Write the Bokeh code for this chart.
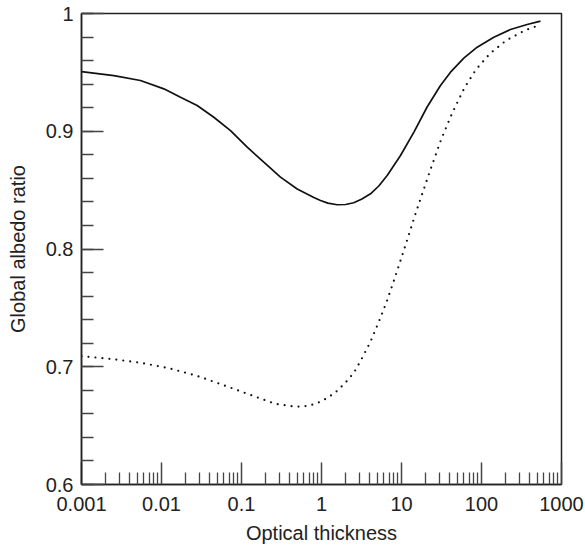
from bokeh.plotting import figure
from bokeh.models import FixedTicker, Range1d
from bokeh.embed import file_html
from bokeh.resources import INLINE

# data
solid_x = [0.001, 0.00254, 0.00546, 0.0107, 0.01728, 0.0279, 0.0451, 0.0729, 0.1178, 0.190, 0.307,
           0.497, 0.802, 0.972, 1.2, 1.57, 2.0, 2.53, 3.2, 4.10, 5.2, 6.62, 9.72, 14.3, 20.9, 30.7,
           41.0, 60.1, 88.3, 142.6, 230, 372, 546]
solid_y = [0.9507, 0.9473, 0.9431, 0.9360, 0.9289, 0.9219, 0.9119, 0.9006, 0.8865, 0.8737, 0.8610,
           0.8510, 0.8437, 0.8412, 0.8390, 0.8376, 0.8378, 0.8393, 0.8425, 0.8469, 0.8535, 0.8624,
           0.8794, 0.8993, 0.9206, 0.9389, 0.9502, 0.9621, 0.9714, 0.9799, 0.9864, 0.9907, 0.9935]

dotted_x = [0.001, 0.00251, 0.00557, 0.01224, 0.0268, 0.0568, 0.1224, 0.264, 0.473, 0.702, 1.009,
            1.454, 1.955, 2.54, 3.10, 4.10, 5.21, 6.49, 7.94, 9.63, 11.66, 14.96, 22.2, 31.3, 43.0,
            61.3, 84.9, 127, 203, 348, 546]
dotted_y = [0.7090, 0.7064, 0.7033, 0.6988, 0.6926, 0.6849, 0.6767, 0.6685, 0.6660, 0.6668, 0.6707,
            0.6775, 0.6858, 0.6949, 0.7053, 0.7214, 0.7382, 0.7548, 0.7721, 0.7894, 0.8067, 0.8299,
            0.8644, 0.8930, 0.9154, 0.9369, 0.9522, 0.9658, 0.9771, 0.9856, 0.9905]

x_major = [0.001, 0.01, 0.1, 1, 10, 100, 1000]
x_labels = ["0.001", "0.01", "0.1", "1", "10", "100", "1000"]
y_major = [0.6, 0.7, 0.8, 0.9, 1.0]
y_labels = ["0.6", "0.7", "0.8", "0.9", "1"]

x_minor = [m * d for d in [0.001, 0.01, 0.1, 1, 10, 100] for m in range(2, 10)]
y_minor = [round(0.6 + 0.02 * i, 2) for i in range(21)]

FONT = "Liberation Sans"

p = figure(width=585, height=548, x_axis_type="log", output_backend="svg",
           toolbar_location=None, x_range=Range1d(0.001, 1000), y_range=Range1d(0.6, 1.0),
           min_border_left=81, min_border_top=13, min_border_right=24, min_border_bottom=64)

p.line(solid_x, solid_y, line_color="#111111", line_width=1.7)
p.line(dotted_x, dotted_y, line_color="#111111", line_width=2.2, line_dash="0 7", line_cap="round")

p.grid.visible = False
p.outline_line_color = "#222222"
p.outline_line_width = 1.5
p.background_fill_color = "white"
p.border_fill_color = "white"

for ax in (p.xaxis[0], p.yaxis[0]):
    ax.axis_line_color = "#222222"
    ax.axis_line_width = 1.5
    ax.major_tick_in = 22
    ax.major_tick_out = 0
    ax.minor_tick_in = 12
    ax.minor_tick_out = 0
    ax.major_tick_line_color = "#444444"
    ax.minor_tick_line_color = "#444444"
    ax.major_tick_line_width = 1.5
    ax.minor_tick_line_width = 1.3
    ax.major_label_text_font = FONT
    ax.major_label_text_font_size = "20px"
    ax.major_label_text_color = "#222222"
    ax.axis_label_text_font = FONT
    ax.axis_label_text_font_size = "20px"
    ax.axis_label_text_font_style = "normal"
    ax.axis_label_text_color = "#222222"

p.xaxis.ticker = FixedTicker(ticks=x_major, minor_ticks=x_minor)
p.xaxis.major_label_overrides = {v: s for v, s in zip(x_major, x_labels)}
p.xaxis.major_label_standoff = 12
p.xaxis.axis_label = "Optical thickness"
p.xaxis.axis_label_standoff = 8

p.yaxis.ticker = FixedTicker(ticks=y_major, minor_ticks=y_minor)
p.yaxis.major_label_overrides = {v: s for v, s in zip(y_major, y_labels)}
p.yaxis.major_label_standoff = 8
p.yaxis.axis_label = "Global albedo ratio"
p.yaxis.axis_label_standoff = 14

open("out.html", "w").write(file_html(p, INLINE))
